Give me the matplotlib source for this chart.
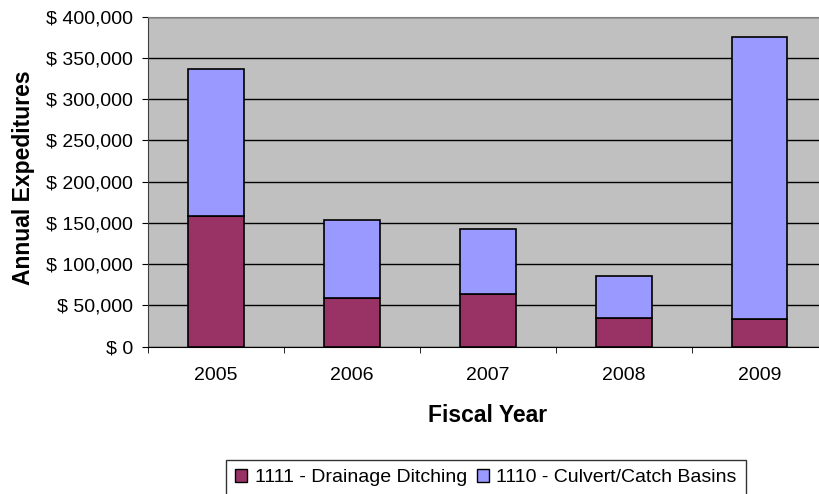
import matplotlib
matplotlib.use("Agg")
import matplotlib.pyplot as plt
from matplotlib.ticker import FuncFormatter, FixedLocator

plt.rcParams["font.family"] = ["Liberation Sans", "DejaVu Sans"]

years = ["2005", "2006", "2007", "2008", "2009"]
ditching = [158000, 59500, 63500, 35000, 33000]
culvert_total = [336000, 153500, 142500, 85500, 375500]
culvert = [t - d for t, d in zip(culvert_total, ditching)]

MAROON = "#993366"
PERIWINKLE = "#9999FF"

W, H = 819, 494
fig = plt.figure(figsize=(W / 100, H / 100), dpi=100)
# plot area runs a little past the right edge of the canvas
ax = fig.add_axes([148 / W, 147.3 / H, 679.5 / W, 330 / H])
ax.set_facecolor("#C0C0C0")

x = list(range(len(years)))
ax.bar(x, ditching, width=0.41, color=MAROON, edgecolor="black", lw=1.2,
       label="1111 - Drainage Ditching", zorder=3)
ax.bar(x, culvert, width=0.41, bottom=ditching, color=PERIWINKLE,
       edgecolor="black", lw=1.2, label="1110 - Culvert/Catch Basins", zorder=3)

ax.set_xlim(-0.5, len(years) - 0.5)
ax.set_ylim(0, 400000)
ax.set_yticks(range(0, 400001, 50000))
ax.yaxis.set_major_formatter(FuncFormatter(lambda v, _: f"$ {v:,.0f}"))
ax.grid(axis="y", color="black", lw=1, zorder=1)
ax.set_axisbelow(True)

ax.set_xticks(x)
ax.set_xticklabels(years)
ax.xaxis.set_minor_locator(FixedLocator([i + 0.5 for i in range(-1, len(years))]))
ax.tick_params(axis="x", which="major", length=0, pad=14.5, labelsize=14)
ax.tick_params(axis="x", which="minor", length=4, color="black", direction="out")
ax.tick_params(axis="y", length=4.3, color="black", labelsize=14, pad=6.5)

for side in ("top", "right"):
    ax.spines[side].set_color("#808080")
ax.spines["left"].set_color("#404040")
ax.spines["bottom"].set_color("black")

ax.set_xlabel("Fiscal Year", fontsize=16.5, fontweight="bold", va="center")
ax.xaxis.set_label_coords(0.5, (346.7 - 415) / 330)
ax.set_ylabel("Annual Expeditures", fontsize=16.5, fontweight="bold",
              va="center", ha="center")
ax.yaxis.set_label_coords((24 - 148) / 679.5, (346.7 - 177.5) / 330)

leg = fig.legend(loc="upper left", bbox_to_anchor=(225.7 / W, 1 - 459.5 / H),
                 ncol=2, fontsize=14, frameon=True, fancybox=False,
                 edgecolor="black", handlelength=0.6, handleheight=0.6,
                 handletextpad=0.4, columnspacing=0.5, borderpad=0.5,
                 borderaxespad=0)
leg.get_frame().set_linewidth(1)
for h in leg.legend_handles:
    h.set_linewidth(1)

fig.savefig("out.png", dpi=100)
